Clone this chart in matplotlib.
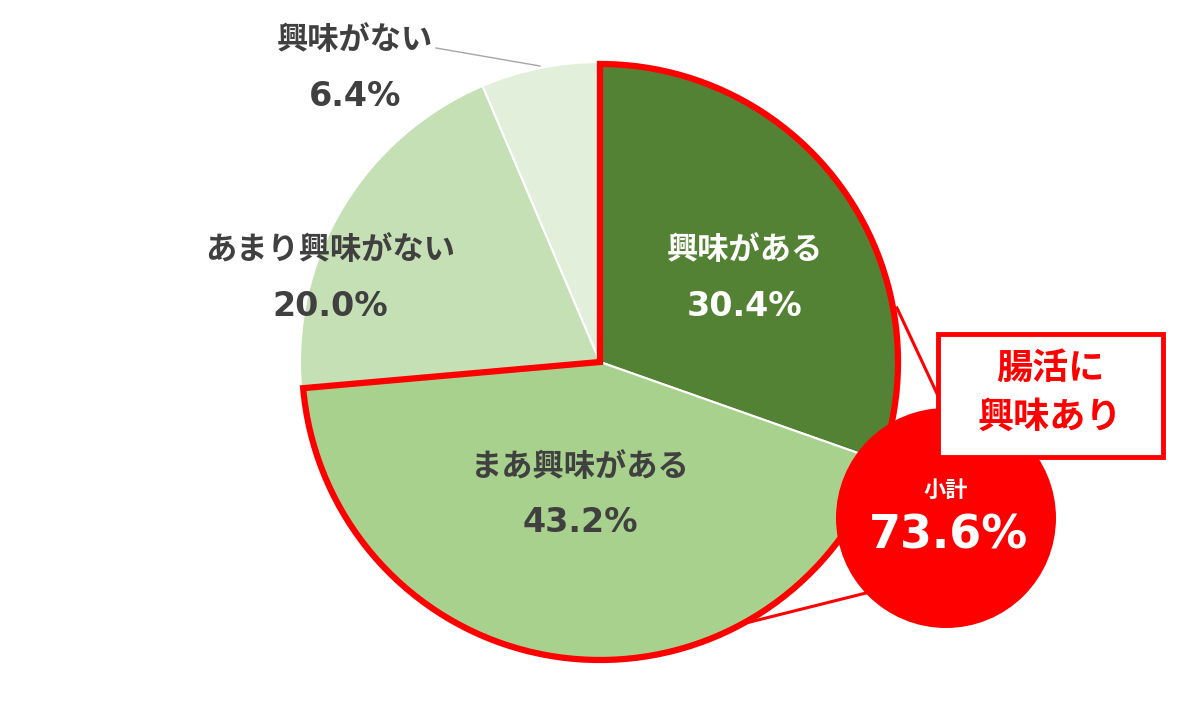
import matplotlib
matplotlib.use("Agg")
import matplotlib.pyplot as plt
from matplotlib.patches import Wedge, Circle, Rectangle

plt.rcParams['font.family'] = ['Noto Sans CJK JP', 'DejaVu Sans']
num_font = ['DejaVu Sans']

# data
labels = ["興味がある", "まあ興味がある", "あまり興味がない", "興味がない"]
values = [30.4, 43.2, 20.0, 6.4]
colors = ["#548235", "#A9D18E", "#C5E0B4", "#E2EFDA"]
subtotal = values[0] + values[1]

W, H = 1200, 720
fig = plt.figure(figsize=(12, 7.2), dpi=100)
ax = fig.add_axes([0, 0, 1, 1])

cx, cy, r = 600, H - 362, 300
ax.pie(values, colors=colors, startangle=90, counterclock=False,
       center=(cx, cy), radius=r, frame=True,
       wedgeprops=dict(edgecolor="white", linewidth=1.5))
ax.set_xlim(0, W)
ax.set_ylim(0, H)
ax.set_aspect("equal")
ax.axis("off")

# red outline around the two "interested" slices
end_angle = 90 - 360 * subtotal / 100
ax.add_patch(Wedge((cx, cy), r - 2, end_angle, 90, fill=False,
                   edgecolor="#FF0000", linewidth=4.5, joinstyle="miter", zorder=5))

# connector lines
ax.plot([897, 940], [H - 308, H - 400], color="#FF0000", lw=2.2, zorder=4)
ax.plot([750, 870], [H - 622, H - 592], color="#FF0000", lw=2.2, zorder=4)

# subtotal circle
ax.add_patch(Circle((946, H - 518), 110, facecolor="#FF0000", edgecolor="none", zorder=6))
ax.text(946, H - 490, "小計", color="white", fontsize=16, fontweight="bold",
        ha="center", va="center", zorder=8)
ax.text(949, H - 536, f"{subtotal:.1f}%", color="white", fontsize=33, fontweight="bold",
        family=num_font, ha="center", va="center", zorder=8)

# label box
ax.add_patch(Rectangle((938, H - 457), 225, 123, facecolor="white",
                       edgecolor="#FF0000", linewidth=3.5, zorder=7))
ax.text(1050, H - 368, "腸活に", color="#FF0000", fontsize=26, fontweight="bold",
        ha="center", va="center", zorder=8)
ax.text(1050, H - 417, "興味あり", color="#FF0000", fontsize=26, fontweight="bold",
        ha="center", va="center", zorder=8)

# slice labels
label_pos = [(745, 250), (580, 467), (330, 250), (355, 40)]
label_col = ["white", "#404040", "#404040", "#404040"]
for lab, val, (x, y), c in zip(labels, values, label_pos, label_col):
    ax.text(x, H - y, lab, color=c, fontsize=22.5, fontweight="bold",
            ha="center", va="center", zorder=3)
    ax.text(x, H - y - 56, f"{val:.1f}%", color=c, fontsize=24, fontweight="bold",
            family=num_font, ha="center", va="center", zorder=3)

# leader line for the small slice
ax.plot([436, 540], [H - 48, H - 66], color="#A6A6A6", lw=1, zorder=3)

fig.savefig("out.png", dpi=100)
